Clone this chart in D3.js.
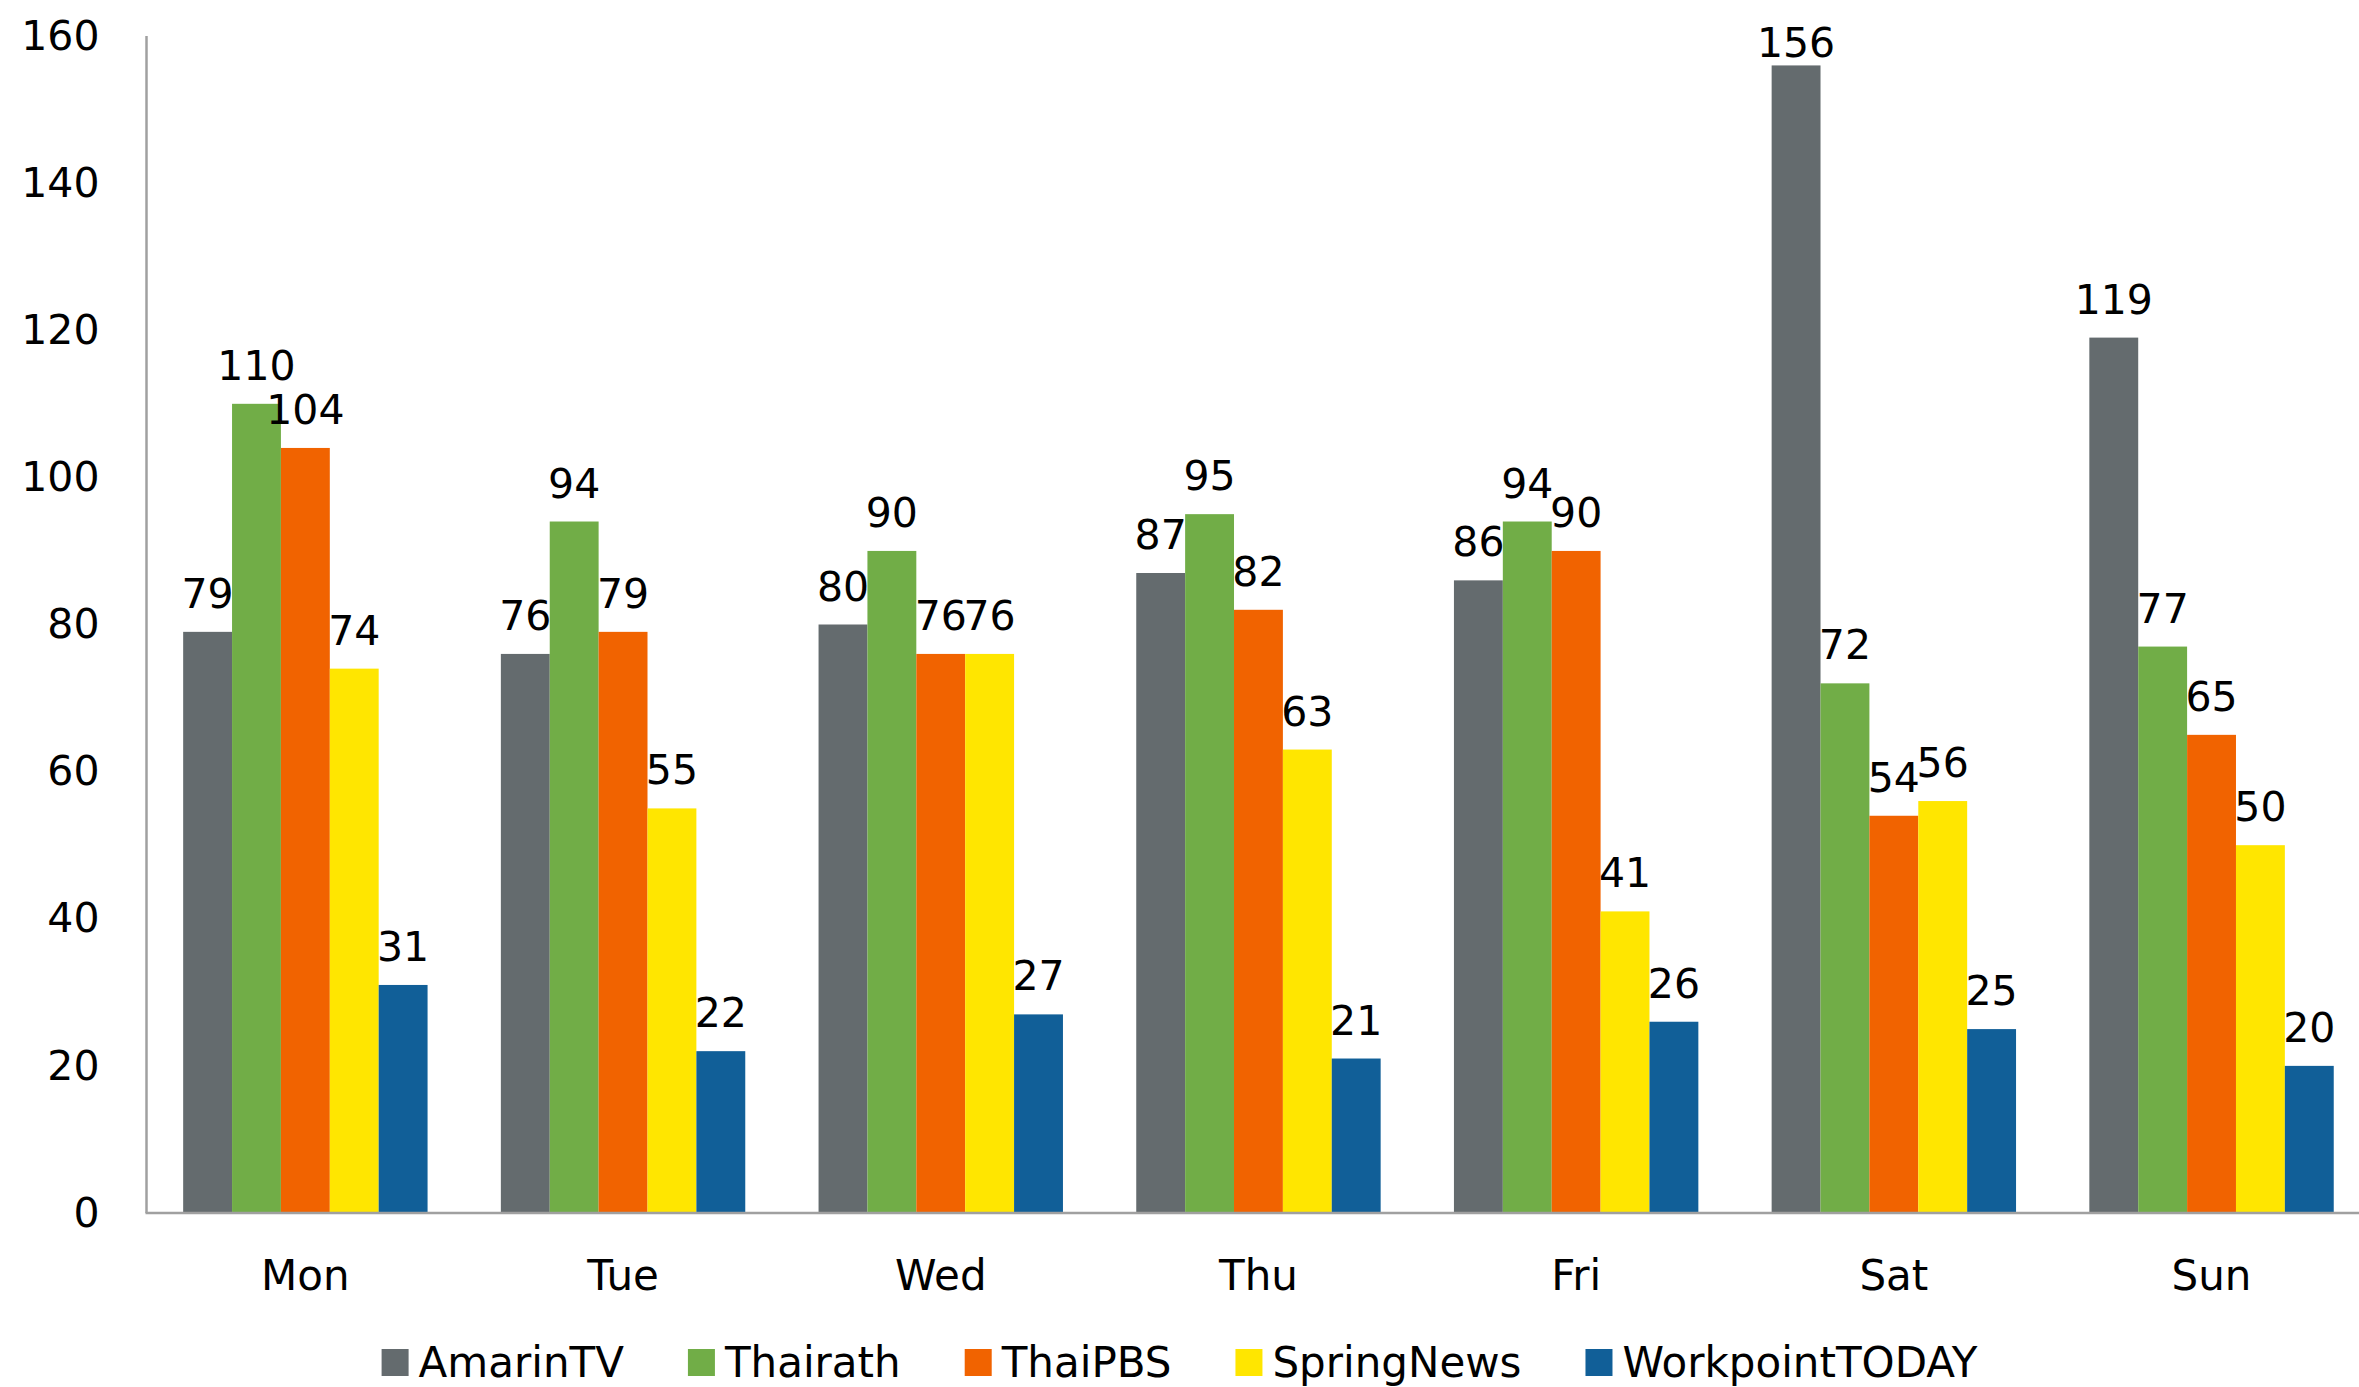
<!DOCTYPE html>
<html lang="en">
<head>
<meta charset="UTF-8">
<title>Daily viewers by channel</title>
<script src="https://cdn.jsdelivr.net/npm/d3@7"></script>
<style>
  body { margin: 0; background: #fff; }
  text { font-family: "DejaVu Sans", Verdana, sans-serif; fill: #000; }
</style>
</head>
<body>
<script>

    // categories and series
    var days = ["Mon", "Tue", "Wed", "Thu", "Fri", "Sat", "Sun"];
    var channels = ["AmarinTV", "Thairath", "ThaiPBS", "SpringNews", "WorkpointTODAY"];

    var amarinTV       = [79, 76, 80, 87, 86, 156, 119];
    var thairath       = [110, 94, 90, 95, 94, 72, 77];
    var thaiPBS        = [104, 79, 76, 82, 90, 54, 65];
    var springNews     = [74, 55, 76, 63, 41, 56, 50];
    var workpointTODAY = [31, 22, 27, 21, 26, 25, 20];

    var yTicks = [0, 20, 40, 60, 80, 100, 120, 140, 160];

    var colors = ["#646b6e", "#71ad47", "#f16300", "#ffe600", "#115f98"];

    var series = [amarinTV, thairath, thaiPBS, springNews, workpointTODAY];

    var W = 2359, H = 1387;
    var plotLeft = 146.5, plotTop = 36, plotBottom = 1213;
    var step = 317.7;

    var svg = d3.select("body").append("svg")
            .attr("width", W)
            .attr("height", H);

    var x = d3.scaleBand()
            .domain(days)
            .range([plotLeft, plotLeft + step * days.length])
            .paddingInner(0.2307)
            .paddingOuter(0.1154);

    var xInner = d3.scaleBand()
            .domain(channels)
            .range([0, x.bandwidth()]);

    var y = d3.scaleLinear()
            .domain([0, 160])
            .range([plotBottom, plotTop]);

    // y axis labels (no ticks)
    var yAxis = d3.axisLeft(y)
            .tickValues(yTicks)
            .tickSize(0)
            .tickPadding(47);

    var yg = svg.append("g")
            .attr("transform", "translate(" + plotLeft + ",0)")
            .call(yAxis);
    yg.select(".domain").remove();
    yg.selectAll("text")
            .style("font-size", "41px")
            .style("font-family", "'DejaVu Sans', sans-serif");

    // bars
    var groups = svg.append("g")
            .selectAll("g")
            .data(days)
            .enter()
            .append("g")
            .attr("transform", function (d) {
                return "translate(" + x(d) + ",0)";
            });

    groups.selectAll("rect")
            .data(function (d, i) {
                return series.map(function (s, j) {
                    return {ch: channels[j], v: s[i], c: colors[j]};
                });
            })
            .enter()
            .append("rect")
            .attr("x", function (d) { return xInner(d.ch); })
            .attr("y", function (d) { return y(d.v); })
            .attr("width", xInner.bandwidth())
            .attr("height", function (d) { return plotBottom - y(d.v); })
            .attr("fill", function (d) { return d.c; });

    // value labels, kept inside the top of the chart like excel does
    groups.selectAll("text.val")
            .data(function (d, i) {
                return series.map(function (s, j) {
                    return {ch: channels[j], v: s[i]};
                });
            })
            .enter()
            .append("text")
            .attr("class", "val")
            .attr("x", function (d) { return xInner(d.ch) + xInner.bandwidth() / 2; })
            .attr("y", function (d) { return Math.max(y(d.v) - 24, 57); })
            .attr("text-anchor", "middle")
            .style("font-size", "41px")
            .text(function (d) { return d.v; });

    // axis lines
    svg.append("line")
            .attr("x1", plotLeft).attr("x2", plotLeft)
            .attr("y1", plotTop).attr("y2", plotBottom)
            .attr("stroke", "#a0a0a0")
            .attr("stroke-width", 2.5);
    svg.append("line")
            .attr("x1", plotLeft - 1).attr("x2", W)
            .attr("y1", plotBottom).attr("y2", plotBottom)
            .attr("stroke", "#a0a0a0")
            .attr("stroke-width", 2.5);

    // x labels
    var xAxis = d3.axisBottom(x).tickSize(0).tickPadding(0);
    var xg = svg.append("g")
            .attr("transform", "translate(0," + plotBottom + ")")
            .call(xAxis);
    xg.select(".domain").remove();
    xg.selectAll("text")
            .attr("y", 77)
            .attr("dy", 0)
            .style("font-size", "42px")
            .style("font-family", "'DejaVu Sans', sans-serif");

    // legend
    var legend = svg.append("g");
    var items = legend.selectAll("g")
            .data(channels)
            .enter()
            .append("g");
    items.append("rect")
            .attr("width", 27)
            .attr("height", 27)
            .attr("y", 1349)
            .attr("fill", function (d, i) { return colors[i]; });
    items.append("text")
            .attr("x", 37)
            .attr("y", 1377)
            .style("font-size", "42px")
            .text(function (d) { return d; });

    var widths = [];
    items.each(function () {
        widths.push(d3.select(this).select("text").node().getComputedTextLength() + 37);
    });
    var gap = 64;
    var total = d3.sum(widths) + gap * (widths.length - 1);
    var pos = (W - total) / 2;
    items.attr("transform", function (d, i) {
        var p = pos;
        pos += widths[i] + gap;
        return "translate(" + p + ",0)";
    });

</script>
</body>
</html>
